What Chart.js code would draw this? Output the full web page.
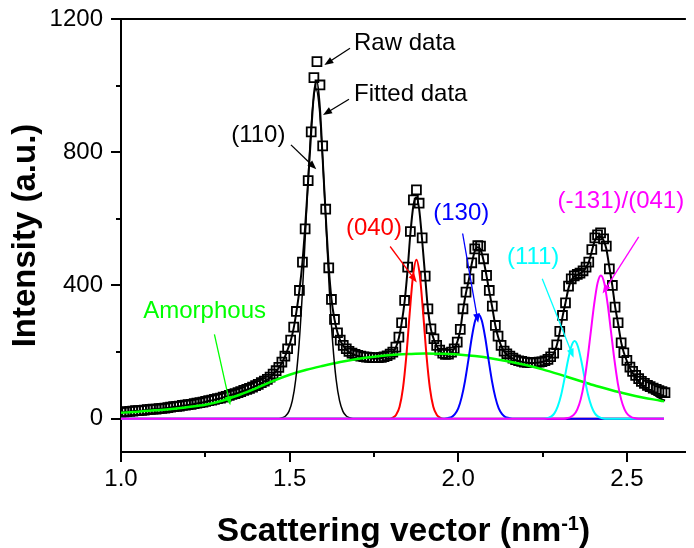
<!DOCTYPE html>
<html>
<head>
<meta charset="utf-8">
<title>Scattering profile</title>
<script src="https://cdn.jsdelivr.net/npm/chart.js@4.4.1/dist/chart.umd.min.js"></script>
<style>
  html, body { margin: 0; padding: 0; background: #fff; }
  canvas { display: block; }
</style>
</head>
<body>
<canvas id="canvas" width="694" height="548"></canvas>
<script>
// scattering vector of the measured points (nm^-1)
var qRaw = [
  1.000, 1.009, 1.017, 1.026, 1.035, 1.043, 1.052, 1.061, 1.069, 1.078,
  1.087, 1.095, 1.104, 1.113, 1.121, 1.130, 1.139, 1.147, 1.156, 1.165,
  1.173, 1.182, 1.191, 1.199, 1.208, 1.217, 1.225, 1.234, 1.243, 1.251,
  1.260, 1.269, 1.277, 1.286, 1.295, 1.303, 1.312, 1.321, 1.329, 1.338,
  1.347, 1.355, 1.364, 1.373, 1.381, 1.390, 1.399, 1.407, 1.416, 1.425,
  1.434, 1.442, 1.451, 1.460, 1.468, 1.477, 1.486, 1.494, 1.503, 1.512,
  1.520, 1.529, 1.538, 1.546, 1.555, 1.564, 1.572, 1.581, 1.590, 1.598,
  1.607, 1.616, 1.624, 1.633, 1.642, 1.650, 1.659, 1.668, 1.676, 1.685,
  1.694, 1.702, 1.711, 1.720, 1.728, 1.737, 1.746, 1.754, 1.763, 1.772,
  1.780, 1.789, 1.798, 1.806, 1.815, 1.824, 1.832, 1.841, 1.850, 1.858,
  1.867, 1.876, 1.884, 1.893, 1.902, 1.910, 1.919, 1.928, 1.936, 1.945,
  1.954, 1.962, 1.971, 1.980, 1.988, 1.997, 2.006, 2.014, 2.023, 2.032,
  2.040, 2.049, 2.058, 2.066, 2.075, 2.084, 2.092, 2.101, 2.110, 2.118,
  2.127, 2.136, 2.144, 2.153, 2.162, 2.170, 2.179, 2.188, 2.196, 2.205,
  2.214, 2.222, 2.231, 2.240, 2.248, 2.257, 2.266, 2.274, 2.283, 2.292,
  2.301, 2.309, 2.318, 2.327, 2.335, 2.344, 2.353, 2.361, 2.370, 2.379,
  2.387, 2.396, 2.405, 2.413, 2.422, 2.431, 2.439, 2.448, 2.457, 2.465,
  2.474, 2.483, 2.491, 2.500, 2.509, 2.517, 2.526, 2.535, 2.543, 2.552,
  2.561, 2.569, 2.578, 2.587, 2.595, 2.604, 2.613
];

var rawIntensity = [
  19, 20, 21, 22, 23, 24, 24, 25, 26, 27,
  28, 29, 29, 30, 31, 32, 33, 35, 36, 37,
  38, 40, 41, 42, 43, 45, 47, 48, 50, 52,
  54, 56, 58, 60, 62, 65, 67, 70, 73, 75,
  78, 81, 85, 88, 91, 95, 99, 103, 108, 113,
  118, 125, 134, 144, 154, 170, 188, 210, 236, 275,
  322, 385, 470, 570, 715, 861, 1024, 1072, 1002, 819,
  629, 453, 358, 298, 258, 236, 220, 210, 202, 197,
  193, 190, 188, 186, 185, 184, 183, 183, 183, 184,
  186, 189, 194, 200, 215, 245, 288, 355, 455, 562,
  657, 687, 647, 543, 428, 330, 270, 240, 220, 206,
  197, 193, 194, 200, 210, 230, 268, 330, 380, 420,
  468, 510, 520, 518, 480, 430, 385, 338, 280, 248,
  220, 203, 195, 188, 182, 177, 174, 172, 170, 169,
  168, 168, 169, 170, 171, 174, 178, 186, 197, 222,
  262, 310, 348, 398, 420, 429, 433, 437, 444, 455,
  470, 508, 543, 552, 558, 540, 518, 450, 400, 335,
  288, 228, 198, 175, 155, 142, 130, 120, 112, 106,
  100, 96, 92, 88, 84, 81, 78
];

var fitIntensity = [
  18, 19, 20, 21, 22, 23, 23, 24, 25, 26,
  27, 28, 28, 29, 30, 31, 32, 34, 35, 36,
  37, 39, 40, 41, 42, 44, 46, 47, 49, 51,
  53, 55, 57, 59, 61, 64, 66, 69, 72, 74,
  77, 80, 84, 87, 90, 94, 98, 102, 107, 112,
  117, 124, 133, 143, 153, 168, 186, 207, 233, 272,
  320, 385, 470, 575, 715, 860, 975, 1012, 930, 780,
  610, 455, 360, 298, 258, 235, 219, 208, 200, 195,
  191, 188, 186, 184, 183, 182, 181, 181, 181, 182,
  184, 187, 192, 199, 214, 243, 286, 352, 450, 555,
  640, 665, 630, 535, 425, 330, 268, 237, 218, 204,
  196, 192, 193, 199, 210, 230, 266, 325, 378, 420,
  465, 503, 515, 508, 475, 428, 382, 333, 280, 246,
  219, 202, 193, 186, 180, 176, 173, 171, 169, 168,
  167, 167, 168, 169, 170, 173, 177, 185, 196, 220,
  260, 305, 348, 392, 415, 427, 432, 436, 443, 454,
  470, 503, 535, 546, 548, 535, 510, 455, 398, 337,
  285, 230, 198, 173, 152, 137, 123, 112, 102, 94,
  87, 80, 74, 68, 63, 58, 54
];

// amorphous halo
var qAmorphous = [
  1.00, 1.05, 1.10, 1.15, 1.20, 1.25, 1.30, 1.35, 1.40, 1.45,
  1.50, 1.55, 1.60, 1.65, 1.70, 1.75, 1.80, 1.85, 1.90, 1.95,
  2.00, 2.05, 2.10, 2.15, 2.20, 2.25, 2.30, 2.35, 2.40, 2.45,
  2.50, 2.55, 2.60, 2.61
];
var amorphous = [
  18, 21, 25, 29, 35, 42, 54, 71, 91, 113,
  132, 147, 159, 170, 179, 186, 191, 194, 196, 195,
  193, 188, 181, 172, 161, 148, 133, 117, 101, 87,
  74, 63, 54, 52
];

// crystalline reflections
var q110 = [1.00, 1.468, 1.478, 1.488, 1.498, 1.508, 1.518, 1.528, 1.538, 1.548, 1.558, 1.568,
  1.578, 1.588, 1.598, 1.608, 1.618, 1.628, 1.638, 1.648, 1.658, 1.668, 1.678, 1.688, 2.61];
var peak110 = [0, 0, 3, 8, 22, 54, 117, 224, 382, 580, 780, 932,
  990, 932, 780, 580, 382, 224, 117, 54, 22, 8, 3, 0, 0];

var q040 = [1.00, 1.796, 1.806, 1.816, 1.826, 1.836, 1.846, 1.856, 1.866,
  1.876, 1.886, 1.896, 1.906, 1.916, 1.926, 1.936, 1.946, 1.956, 2.61];
var peak040 = [0, 0, 3, 12, 36, 91, 188, 316, 430,
  477, 430, 316, 188, 91, 36, 12, 3, 0, 0];

var q130 = [1.00, 1.96, 1.97, 1.98, 1.99, 2.00, 2.01, 2.02, 2.03, 2.04, 2.05,
  2.06, 2.07, 2.08, 2.09, 2.10, 2.11, 2.12, 2.13, 2.14, 2.15, 2.16, 2.61];
var peak130 = [0, 0, 2, 5, 14, 31, 64, 113, 176, 243, 294,
  313, 294, 243, 176, 113, 64, 31, 14, 5, 2, 0, 0];

var q111 = [1.00, 2.255, 2.265, 2.275, 2.285, 2.295, 2.305, 2.315, 2.325, 2.335,
  2.345, 2.355, 2.365, 2.375, 2.385, 2.395, 2.405, 2.415, 2.425, 2.435, 2.61];
var peak111 = [0, 0, 2, 6, 16, 37, 71, 120, 173, 216,
  233, 216, 173, 120, 71, 37, 16, 6, 2, 0, 0];

var q131 = [1.00, 2.313, 2.323, 2.333, 2.343, 2.353, 2.363, 2.373, 2.383, 2.393, 2.403, 2.413,
  2.423, 2.433, 2.443, 2.453, 2.463, 2.473, 2.483, 2.493, 2.503, 2.513, 2.523, 2.533, 2.61];
var peak131 = [0, 0, 2, 5, 12, 28, 58, 107, 177, 261, 344, 407,
  430, 407, 344, 261, 177, 107, 58, 28, 12, 5, 2, 0, 0];

var xTicks = [1.0, 1.25, 1.5, 1.75, 2.0, 2.25, 2.5];
var xLabelled = [1.0, 1.5, 2.0, 2.5];
var yTicks = [0, 200, 400, 600, 800, 1000, 1200];
var yLabelled = [0, 400, 800, 1200];

// callouts: text anchor and arrow, in data units
var callouts = [
  { text: "Raw data", color: "#000000", at: [1.691, 1127], align: "left", from: [1.679, 1112], to: [1.603, 1062] },
  { text: "Fitted data", color: "#000000", at: [1.691, 975], align: "left", from: [1.676, 959], to: [1.599, 912] },
  { text: "(110)", color: "#000000", at: [1.407, 850], align: "center", from: [1.504, 822], to: [1.579, 749] },
  { text: "(040)", color: "#ff0000", at: [1.750, 570], align: "center", from: [1.798, 517], to: [1.877, 409] },
  { text: "(130)", color: "#0000ff", at: [2.009, 616], align: "center", from: [2.013, 556], to: [2.059, 288] },
  { text: "(111)", color: "#00ffff", at: [2.222, 485], align: "center", from: [2.249, 420], to: [2.342, 183] },
  { text: "(-131)/(041)", color: "#ff00ff", at: [2.482, 652], align: "center", from: [2.535, 546], to: [2.428, 376] },
  { text: "Amorphous", color: "#00ff00", at: [1.248, 323], align: "center", from: [1.277, 253], to: [1.324, 40] }
];

var FONT = 'Arial, "Liberation Sans", sans-serif';
Chart.defaults.font.family = FONT;
Chart.defaults.color = "#000";

function points(xs, ys) {
  return xs.map(function (x, i) {
    return { x: x, y: ys[i] };
  });
}

function curve(label, xs, ys, color, width) {
  return {
    label: label,
    data: points(xs, ys),
    showLine: true,
    borderColor: color,
    borderWidth: width,
    pointRadius: 0,
    cubicInterpolationMode: "monotone",
    fill: false,
  };
}

function arrow(ctx, x1, y1, x2, y2, color) {
  var ang = Math.atan2(y2 - y1, x2 - x1);
  var len = 9, half = 3.5;
  ctx.strokeStyle = color;
  ctx.fillStyle = color;
  ctx.lineWidth = 1.3;
  ctx.beginPath();
  ctx.moveTo(x1, y1);
  ctx.lineTo(x2 - Math.cos(ang) * len * 0.8, y2 - Math.sin(ang) * len * 0.8);
  ctx.stroke();
  ctx.beginPath();
  ctx.moveTo(x2, y2);
  ctx.lineTo(x2 - Math.cos(ang) * len + Math.sin(ang) * half, y2 - Math.sin(ang) * len - Math.cos(ang) * half);
  ctx.lineTo(x2 - Math.cos(ang) * len - Math.sin(ang) * half, y2 - Math.sin(ang) * len + Math.cos(ang) * half);
  ctx.closePath();
  ctx.fill();
}

// tick marks (long major, short minor), top frame edge, x title and callouts
var framePlugin = {
  id: "frame",
  afterDraw: function (chart) {
    var ctx = chart.ctx;
    var area = chart.chartArea;
    var xs = chart.scales.x;
    var ys = chart.scales.y;
    ctx.save();

    ctx.strokeStyle = "#000";
    ctx.lineWidth = 2;
    ctx.beginPath();
    ctx.moveTo(area.left - 1, area.top);
    ctx.lineTo(area.right, area.top);
    xTicks.forEach(function (v) {
      var px = Math.round(xs.getPixelForValue(v));
      var len = xLabelled.indexOf(v) >= 0 ? 10 : 5;
      ctx.moveTo(px, area.bottom);
      ctx.lineTo(px, area.bottom + len);
    });
    yTicks.forEach(function (v) {
      var py = Math.round(ys.getPixelForValue(v));
      var len = yLabelled.indexOf(v) >= 0 ? 10 : 5;
      ctx.moveTo(area.left, py);
      ctx.lineTo(area.left - len, py);
    });
    ctx.stroke();

    // x axis title with superscript
    var parts = [
      ["Scattering vector (nm", "bold 33.5px " + FONT, 0],
      ["-1", "bold 20px " + FONT, -11],
      [")", "bold 33.5px " + FONT, 0],
    ];
    var total = 0;
    parts.forEach(function (p) {
      ctx.font = p[1];
      p.push(ctx.measureText(p[0]).width);
      total += p[3];
    });
    var tx = (area.left + area.right) / 2 - total / 2;
    ctx.fillStyle = "#000";
    ctx.textAlign = "left";
    ctx.textBaseline = "alphabetic";
    parts.forEach(function (p) {
      ctx.font = p[1];
      ctx.fillText(p[0], tx, 541 + p[2]);
      tx += p[3];
    });

    ctx.font = "24px " + FONT;
    ctx.textBaseline = "middle";
    callouts.forEach(function (c) {
      ctx.fillStyle = c.color;
      ctx.textAlign = c.align;
      ctx.fillText(c.text, xs.getPixelForValue(c.at[0]), ys.getPixelForValue(c.at[1]));
      arrow(ctx,
        xs.getPixelForValue(c.from[0]), ys.getPixelForValue(c.from[1]),
        xs.getPixelForValue(c.to[0]), ys.getPixelForValue(c.to[1]),
        c.color);
    });

    ctx.restore();
  },
};

const ctx = document.getElementById("canvas").getContext("2d");
const chart = new Chart(ctx, {
  type: "scatter",
  data: {
    datasets: [
      curve("(-131)/(041)", q131, peak131, "#ff00ff", 2),
      curve("(111)", q111, peak111, "#00ffff", 2),
      curve("(130)", q130, peak130, "#0000ff", 2),
      curve("(040)", q040, peak040, "#ff0000", 2),
      curve("(110)", q110, peak110, "#000000", 1.5),
      curve("Amorphous", qAmorphous, amorphous, "#00ff00", 2.5),
      curve("Fitted data", qRaw, fitIntensity, "#000000", 2),
      {
        label: "Raw data",
        data: points(qRaw, rawIntensity),
        showLine: false,
        pointStyle: "rect",
        pointRadius: 6.3,
        borderColor: "#000",
        borderWidth: 1.8,
        backgroundColor: "rgba(0,0,0,0)",
      },
    ],
  },
  options: {
    responsive: false,
    animation: false,
    devicePixelRatio: 1,
    layout: { padding: { top: 19, right: 0, bottom: 0, left: 0 } },
    plugins: {
      legend: { display: false },
      tooltip: { enabled: false },
    },
    scales: {
      x: {
        type: "linear",
        min: 1.0,
        max: 2.675,
        afterBuildTicks: function (scale) {
          scale.ticks = xTicks.map(function (v) { return { value: v }; });
        },
        afterFit: function (scale) {
          scale.height = 96;
          scale.paddingLeft = 0;
          scale.paddingRight = 0;
        },
        ticks: {
          autoSkip: false,
          maxRotation: 0,
          padding: 13,
          font: { size: 24 },
          callback: function (v) {
            return xLabelled.indexOf(v) >= 0 ? v.toFixed(1) : "";
          },
        },
        grid: { display: false, drawTicks: false },
        border: { display: true, color: "#000", width: 2 },
      },
      y: {
        min: -100,
        max: 1200,
        afterBuildTicks: function (scale) {
          scale.ticks = yTicks.map(function (v) { return { value: v }; });
        },
        afterFit: function (scale) {
          scale.width = 121;
          scale.paddingTop = 0;
          scale.paddingBottom = 0;
        },
        ticks: {
          autoSkip: false,
          padding: 18,
          font: { size: 24 },
          callback: function (v) {
            return yLabelled.indexOf(v) >= 0 ? String(v) : "";
          },
        },
        grid: { display: false, drawTicks: false },
        border: { display: true, color: "#000", width: 2 },
        title: {
          display: true,
          text: "Intensity (a.u.)",
          font: { size: 33, weight: "bold" },
          padding: { top: 6, bottom: 0 },
        },
      },
    },
  },
  plugins: [framePlugin],
});
</script>
</body>
</html>
